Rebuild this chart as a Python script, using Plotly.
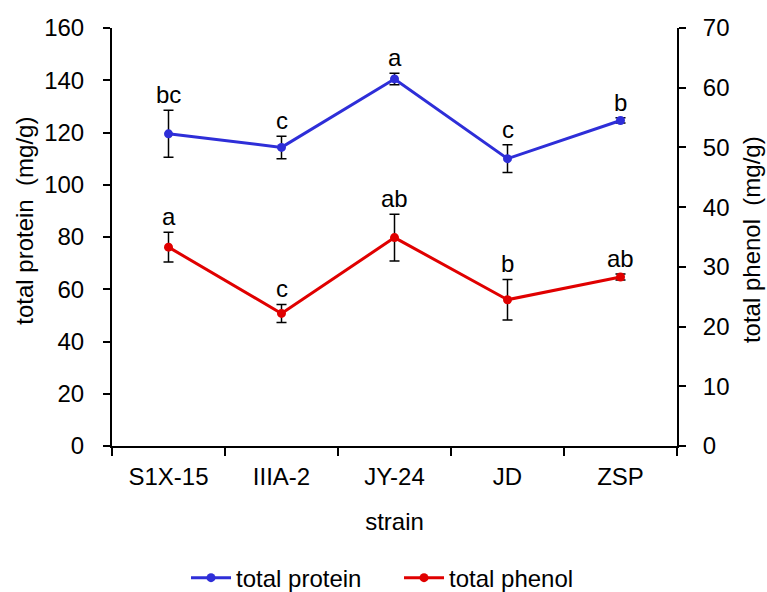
import plotly.graph_objects as go

strains = ["S1X-15", "IIIA-2", "JY-24", "JD", "ZSP"]
protein = [119.5, 114.3, 140.5, 110.0, 124.6]
protein_err = [9.0, 4.3, 2.2, 5.3, 1.0]
protein_letters = ["bc", "c", "a", "c", "b"]
phenol = [33.3, 22.2, 34.9, 24.5, 28.3]
phenol_err = [2.5, 1.5, 3.9, 3.4, 0.5]
phenol_letters = ["a", "c", "ab", "b", "ab"]

FONT = "Liberation Sans, Arial, sans-serif"
TS = 24

fig = go.Figure()
fig.add_trace(go.Scatter(
    x=strains, y=protein, name="total protein", mode="lines+markers",
    line=dict(color="#2e2ed8", width=3), marker=dict(size=9, color="#2e2ed8"),
    error_y=dict(type="data", array=protein_err, color="black", thickness=1.5, width=5),
    yaxis="y"))
fig.add_trace(go.Scatter(
    x=strains, y=phenol, name="total phenol", mode="lines+markers",
    line=dict(color="#e00000", width=3), marker=dict(size=9, color="#e00000"),
    error_y=dict(type="data", array=phenol_err, color="black", thickness=1.5, width=5),
    yaxis="y2"))

annotations = []
for s, v, e, t in zip(strains, protein, protein_err, protein_letters):
    annotations.append(dict(x=s, y=v + e, xref="x", yref="y", text=t, showarrow=False,
                            yanchor="bottom", yshift=0, font=dict(size=TS, color="black", family=FONT)))
for s, v, e, t in zip(strains, phenol, phenol_err, phenol_letters):
    annotations.append(dict(x=s, y=v + e, xref="x", yref="y2", text=t, showarrow=False,
                            yanchor="bottom", yshift=0, font=dict(size=TS, color="black", family=FONT)))

# axis titles as rotated annotations
annotations.append(dict(x=-0.155, y=0.54, xref="paper", yref="paper", text="total protein  (mg/g)",
                        textangle=-90, showarrow=False, xanchor="center", yanchor="middle",
                        font=dict(size=TS, color="black", family=FONT)))
annotations.append(dict(x=1.133, y=0.493, xref="paper", yref="paper", text="total phenol  (mg/g)",
                        textangle=-90, showarrow=False, xanchor="center", yanchor="middle",
                        font=dict(size=TS, color="black", family=FONT)))

fig.update_layout(
    width=767, height=592,
    margin=dict(l=112, r=90, t=28, b=146, autoexpand=False),
    paper_bgcolor="white", plot_bgcolor="white",
    font=dict(family=FONT, color="black"),
    xaxis=dict(type="category", range=[-0.5, 4.5], tickson="boundaries",
               showline=True, linecolor="black", linewidth=2,
               ticks="outside", ticklen=8, tickwidth=2, tickcolor="black",
               tickfont=dict(size=TS), ticklabelstandoff=8, automargin=False,
               title=dict(text="strain", font=dict(size=TS), standoff=24),
               showgrid=False, zeroline=False),
    yaxis=dict(range=[0, 160], dtick=20, showline=True, linecolor="black", linewidth=2,
               ticks="outside", ticklen=7, tickwidth=2, tickcolor="black",
               tickfont=dict(size=TS), ticklabelstandoff=14, automargin=False,
               showgrid=False, zeroline=False),
    yaxis2=dict(range=[0, 70], dtick=10, overlaying="y", side="right",
                showline=True, linecolor="black", linewidth=2,
                ticks="outside", ticklen=7, tickwidth=2, tickcolor="black",
                tickfont=dict(size=TS), ticklabelstandoff=12, automargin=False,
                showgrid=False, zeroline=False),
    legend=dict(orientation="h", x=0.131, xanchor="left", y=-0.316, yanchor="middle",
                font=dict(size=TS), entrywidth=158, entrywidthmode="pixels",
                itemwidth=40, tracegroupgap=0),
    annotations=annotations,
)

fig.write_html("out.html", config={"displayModeBar": False},
               post_script="document.body.style.margin='0';document.documentElement.style.overflow='hidden';")
